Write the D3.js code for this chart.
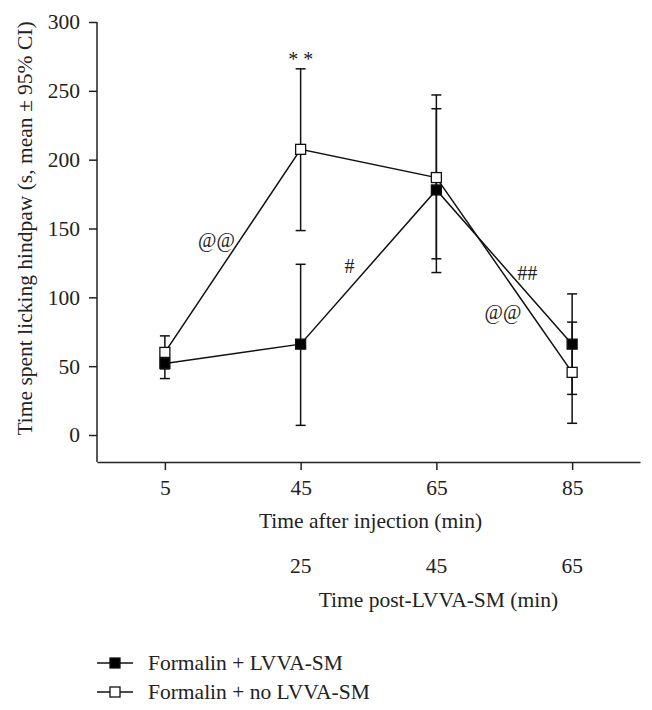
<!DOCTYPE html>
<html>
<head>
<meta charset="utf-8">
<script src="https://cdn.jsdelivr.net/npm/d3@7"></script>
<style>
  html, body { margin: 0; padding: 0; background: #fff; }
  svg { display: block; }
  text { font-family: "Liberation Serif", "DejaVu Serif", serif; fill: #222; }
</style>
</head>
<body>
<script>
// ---------- data ----------
const categories = ["5", "45", "65", "85"];           // time after injection (min)
const secondaryLabels = ["", "25", "45", "65"];       // time post-LVVA-SM (min)
const yTicks = [0, 50, 100, 150, 200, 250, 300];

const lvvaMean  = [52, 66, 178, 66];
const lvvaLow   = [41, 7, 118, 29.5];
const lvvaHigh  = [63, 124, 237, 102.5];

const noLvvaMean = [60, 207.5, 187, 45.5];
const noLvvaLow  = [48, 148.5, 128, 8.5];
const noLvvaHigh = [72, 266, 247, 82];

const seriesNames = ["Formalin + LVVA-SM", "Formalin + no LVVA-SM"];

// annotations: position given as fractional category index and value
const annotations = [
  { text: "* *", idx: 1,    value: 273 },
  { text: "@@",  idx: 0.38, value: 142 },
  { text: "#",   idx: 1.36, value: 123 },
  { text: "##",  idx: 2.67, value: 118 },
  { text: "@@",  idx: 2.49, value: 89 }
];

// ---------- layout ----------
const W = 652, H = 710;
const mLeft = 97, mRight = 640, mTop = 22, zeroY = 435, baseY = 462;
const fs = 21.5;

const svg = d3.select("body").append("svg").attr("width", W).attr("height", H);

const x = d3.scalePoint().domain(categories).range([mLeft, mRight]).padding(0.5);
const y = d3.scaleLinear().domain([0, 300]).range([zeroY, mTop]);
const xi = i => x(categories[0]) + i * x.step();

const series = [
  { name: seriesNames[0], mean: lvvaMean, low: lvvaLow, high: lvvaHigh, fill: "#000" },
  { name: seriesNames[1], mean: noLvvaMean, low: noLvvaLow, high: noLvvaHigh, fill: "#fff" }
];

// ---------- axes ----------
const yAxis = svg.append("g").attr("transform", `translate(${mLeft},0)`)
  .call(d3.axisLeft(y).tickValues(yTicks).tickSize(8).tickPadding(9));
yAxis.select(".domain").remove();
yAxis.selectAll(".tick line").attr("stroke", "#222").attr("stroke-width", 1.5);
yAxis.selectAll(".tick text").style("font-size", fs + "px")
  .style("font-family", "Liberation Serif").attr("fill", "#222");
svg.append("line").attr("x1", mLeft).attr("x2", mLeft).attr("y1", y(300)).attr("y2", baseY)
  .attr("stroke", "#222").attr("stroke-width", 1.5);

const xAxis = svg.append("g").attr("transform", `translate(0,${baseY})`)
  .call(d3.axisBottom(x).tickSize(8).tickSizeOuter(0).tickPadding(10));
xAxis.select(".domain").attr("stroke", "#222").attr("stroke-width", 1.5);
xAxis.selectAll(".tick line").attr("stroke", "#222").attr("stroke-width", 1.5);
xAxis.selectAll(".tick text").style("font-size", fs + "px")
  .style("font-family", "Liberation Serif").attr("fill", "#222");

svg.append("g").selectAll("text").data(categories).join("text")
  .attr("x", d => x(d)).attr("y", 573)
  .attr("text-anchor", "middle").style("font-size", fs + "px")
  .text((d, i) => secondaryLabels[i]);

svg.append("text").attr("x", (mLeft + mRight) / 2 + 2).attr("y", 528)
  .attr("text-anchor", "middle").style("font-size", fs + "px")
  .text("Time after injection (min)");
svg.append("text").attr("x", x(categories[2]) + 2).attr("y", 607)
  .attr("text-anchor", "middle").style("font-size", fs + "px")
  .text("Time post-LVVA-SM (min)");
svg.append("text")
  .attr("transform", `translate(32,${(y(0) + y(300)) / 2}) rotate(-90)`)
  .attr("text-anchor", "middle").style("font-size", fs + "px")
  .text("Time spent licking hindpaw (s, mean ± 95% CI)");

// ---------- marks ----------
const line = d3.line().x((d, i) => x(categories[i])).y(d => y(d));
const plot = svg.append("g");

series.forEach(s => {
  plot.append("path").datum(s.mean).attr("d", line)
    .attr("fill", "none").attr("stroke", "#111").attr("stroke-width", 1.5);
});

const cap = 5;
series.forEach(s => {
  const g = plot.append("g");
  categories.forEach((c, i) => {
    g.append("line").attr("x1", x(c)).attr("x2", x(c))
      .attr("y1", y(s.low[i])).attr("y2", y(s.high[i]))
      .attr("stroke", "#111").attr("stroke-width", 1.5);
    [s.low[i], s.high[i]].forEach(v => {
      g.append("line").attr("x1", x(c) - cap).attr("x2", x(c) + cap)
        .attr("y1", y(v)).attr("y2", y(v))
        .attr("stroke", "#111").attr("stroke-width", 1.5);
    });
  });
});

const sq = 10;
series.forEach(s => {
  plot.append("g").selectAll("rect").data(s.mean).join("rect")
    .attr("x", (d, i) => x(categories[i]) - sq / 2)
    .attr("y", d => y(d) - sq / 2)
    .attr("width", sq).attr("height", sq)
    .attr("fill", s.fill).attr("stroke", "#111").attr("stroke-width", 1.3);
});

svg.append("g").selectAll("text").data(annotations).join("text")
  .attr("x", d => xi(d.idx)).attr("y", d => y(d.value))
  .attr("text-anchor", "middle").attr("dominant-baseline", "central")
  .style("font-size", "20px").text(d => d.text);

// ---------- legend ----------
const legend = svg.append("g");
series.forEach((s, i) => {
  const ly = 663 + i * 29;
  legend.append("line").attr("x1", 97).attr("x2", 133).attr("y1", ly).attr("y2", ly)
    .attr("stroke", "#111").attr("stroke-width", 1.5);
  legend.append("rect").attr("x", 115 - sq / 2).attr("y", ly - sq / 2)
    .attr("width", sq).attr("height", sq)
    .attr("fill", s.fill).attr("stroke", "#111").attr("stroke-width", 1.3);
  legend.append("text").attr("x", 148).attr("y", ly + 7)
    .style("font-size", fs + "px").text(s.name);
});
</script>
</body>
</html>
